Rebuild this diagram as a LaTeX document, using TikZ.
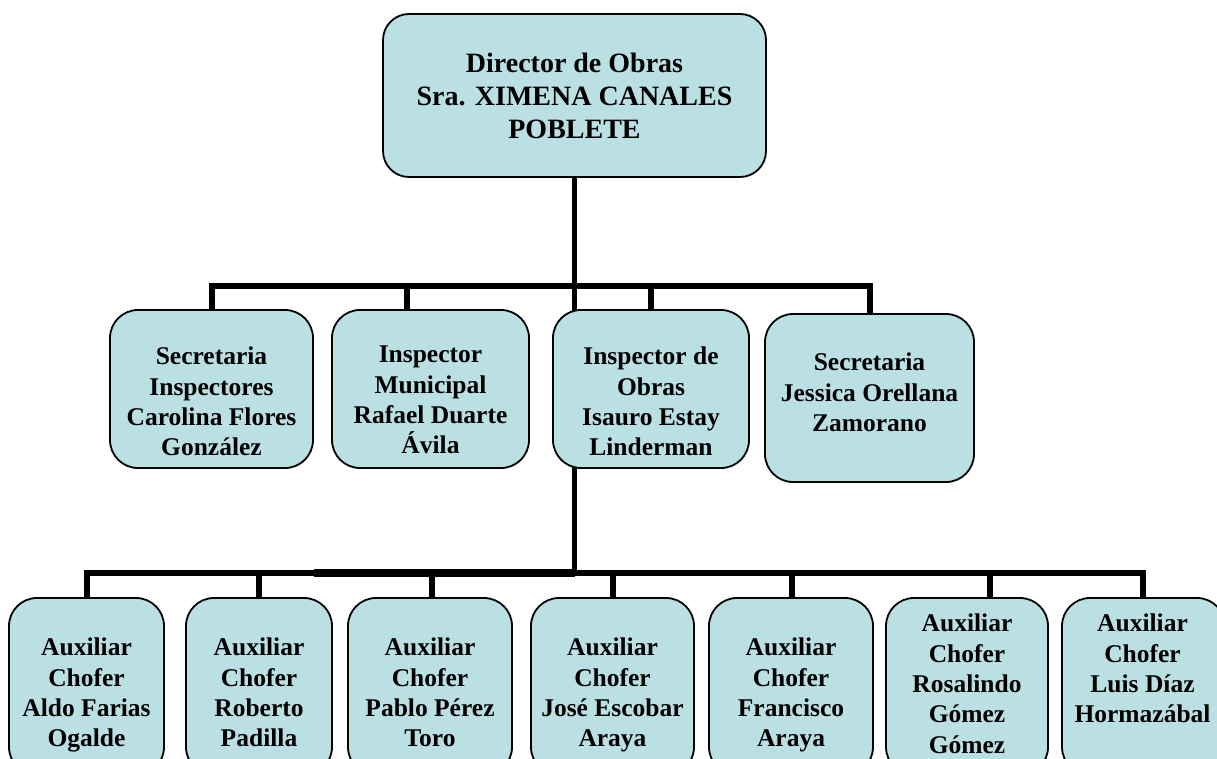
\documentclass[tikz,border=0pt]{standalone}
\usepackage{fontspec}
\setmainfont{Liberation Serif}
\definecolor{boxfill}{RGB}{187,224,228}
\begin{document}
\begin{tikzpicture}[x=1pt,y=-1pt,
  box/.style={draw=black, line width=1.8pt, fill=boxfill, rounded corners=28pt, inner sep=0pt},
  txt/.style={anchor=north, inner sep=0pt, align=center, font=\bfseries\fontsize{25.5}{30.3}\selectfont},
  toptxt/.style={txt, font=\bfseries\fontsize{28}{33}\selectfont},
  link/.style={draw=black, line width=5.5pt, line cap=rect}]
\pgfdeclarelayer{bg}
\pgfsetlayers{bg,main}
\useasboundingbox (0,0) rectangle (1217,758);
\clip (0,0) rectangle (1217,758);

% coordinates for connectors
\coordinate (m2) at (574.5,573);
\coordinate (k1) at (212,286);
\coordinate (k2) at (407,286);
\coordinate (k3) at (651,286);
\coordinate (k4) at (870,286);
\coordinate (q1) at (87,573);
\coordinate (q2) at (259,573);
\coordinate (q3) at (432,573);
\coordinate (q4) at (613,573);
\coordinate (q5) at (792,573);
\coordinate (q6) at (990,573);
\coordinate (q7) at (1143,573);
\coordinate (qt) at (314,573);

% top box
\node[box, rounded corners=26pt, minimum width=383pt, minimum height=163pt] (dir) at (574.5,95.5) {};

% level 2 boxes
\node[box, minimum width=203pt, minimum height=158pt] (s1) at (211.5,389) {};
\node[box, minimum width=197pt, minimum height=158pt] (s2) at (430.5,389) {};
\node[box, minimum width=196pt, minimum height=158pt] (s3) at (651,389) {};
\node[box, minimum width=209pt, minimum height=168pt] (s4) at (869.5,398) {};

% level 3 boxes
\node[box, minimum width=155pt, minimum height=177pt] (a1) at (86.5,686.5) {};
\node[box, minimum width=146pt, minimum height=177pt] (a2) at (259,686.5) {};
\node[box, minimum width=164pt, minimum height=177pt] (a3) at (430,686.5) {};
\node[box, minimum width=163pt, minimum height=177pt] (a4) at (612.5,686.5) {};
\node[box, minimum width=164pt, minimum height=177pt] (a5) at (791,686.5) {};
\node[box, minimum width=162pt, minimum height=177pt] (a6) at (967,686.5) {};
\node[box, minimum width=163pt, minimum height=177pt] (a7) at (1143.5,686.5) {};

% connectors (behind boxes)
\begin{pgfonlayer}{bg}
  \draw[link] (dir.south) -- (m2);
  \draw[link] (k1) -- (k4);
  \draw[link] (k1) -- (k1 |- s1.north);
  \draw[link] (k2) -- (k2 |- s2.north);
  \draw[link] (k3) -- (k3 |- s3.north);
  \draw[link] (k4) -- (k4 |- s4.north);
  \draw[link] (q1) -- (q7);
  \draw[draw=black, line width=8pt] (qt) -- (m2);
  \draw[link] (q1) -- (q1 |- a1.north);
  \draw[link] (q2) -- (q2 |- a2.north);
  \draw[link] (q3) -- (q3 |- a3.north);
  \draw[link] (q4) -- (q4 |- a4.north);
  \draw[link] (q5) -- (q5 |- a5.north);
  \draw[link] (q6) -- (q6 |- a6.north);
  \draw[link] (q7) -- (q7 |- a7.north);
\end{pgfonlayer}

% texts
\node[toptxt] (tdir) at (574.5,53) {Director de Obras\\Sra. XIMENA CANALES\\POBLETE};
\node[txt] (ts1) at (211.5,347) {Secretaria\\Inspectores\\Carolina Flores\\González};
\node[txt] (ts2) at (430.5,346) {Inspector\\Municipal\\Rafael Duarte\\Ávila};
\node[txt] (ts3) at (651,347) {Inspector de\\Obras\\Isauro Estay\\Linderman};
\node[txt] (ts4) at (869.5,353) {Secretaria\\Jessica Orellana\\Zamorano};

\node[txt] (ta1) at (86.5,638) {Auxiliar\\Chofer\\Aldo Farias\\Ogalde};
\node[txt] (ta2) at (259,638) {Auxiliar\\Chofer\\Roberto\\Padilla};
\node[txt] (ta3) at (430,638) {Auxiliar\\Chofer\\Pablo Pérez\\Toro};
\node[txt] (ta4) at (612.5,638) {Auxiliar\\Chofer\\José Escobar\\Araya};
\node[txt] (ta5) at (791,638) {Auxiliar\\Chofer\\Francisco\\Araya};
\node[txt] (ta6) at (967,614) {Auxiliar\\Chofer\\Rosalindo\\Gómez\\Gómez};
\node[txt] (ta7) at (1142.5,614) {Auxiliar\\Chofer\\Luis Díaz\\Hormazábal};
\end{tikzpicture}
\end{document}
